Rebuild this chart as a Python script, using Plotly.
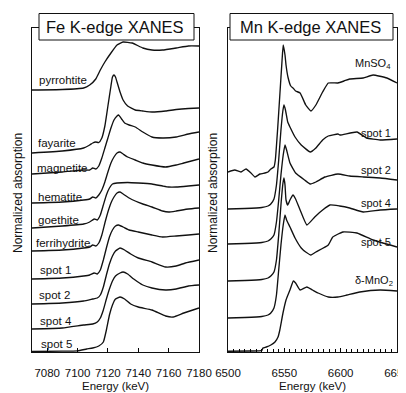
import plotly.graph_objects as go

# The page body adds an 8px margin, so the figure is drawn 8px smaller and all
# reference pixel positions are shifted by that offset.
W, H = 406, 393
OFF = 8
WF, HF = W - OFF, H - OFF
FONT = "Liberation Sans, Arial, sans-serif"
INK = "#111111"

# ---------------- Fe K-edge XANES (energy, stacked normalized absorption) ----------------
fe_names = ["pyrrohtite", "fayarite", "magnetite", "hematite", "goethite",
            "ferrihydrite", "spot 1", "spot 2", "spot 4", "spot 5"]

fe_pyrrohtite_e = [7070, 7090, 7104, 7108, 7112, 7115, 7118, 7122, 7126, 7130, 7136, 7143, 7149, 7156, 7165, 7173, 7180]
fe_pyrrohtite_y = [26.2, 26.25, 26.4, 26.7, 27.3, 28.2, 29.0, 29.9, 30.7, 31.0, 30.9, 30.4, 30.2, 30.2, 30.4, 30.6, 30.6]

fe_fayarite_e = [7070, 7090, 7104, 7108, 7110, 7112, 7114, 7116, 7118, 7120, 7122, 7123, 7124, 7125, 7126, 7128, 7130, 7133, 7138, 7143, 7149, 7158, 7165, 7173, 7180]
fe_fayarite_y = [19.9, 20.1, 20.4, 20.7, 20.9, 21.0, 20.95, 21.4, 22.6, 24.6, 26.6, 27.5, 27.7, 27.5, 27.0, 26.0, 25.2, 24.6, 24.2, 24.1, 24.0, 24.1, 24.25, 24.35, 24.4]

fe_magnetite_e = [7070, 7090, 7104, 7108, 7110, 7112, 7114, 7116, 7118, 7120, 7122, 7124, 7126, 7127, 7129, 7131, 7134, 7138, 7143, 7149, 7156, 7165, 7173, 7180]
fe_magnetite_y = [17.8, 18.0, 18.2, 18.2, 18.4, 18.3, 18.6, 19.4, 20.4, 21.4, 22.4, 23.2, 23.6, 23.7, 23.3, 22.9, 22.7, 22.5, 22.0, 21.5, 21.4, 21.5, 21.8, 22.0]

fe_hematite_e = [7070, 7090, 7104, 7108, 7110, 7112, 7114, 7116, 7118, 7120, 7122, 7124, 7126, 7128, 7130, 7133, 7138, 7143, 7149, 7158, 7165, 7170, 7180]
fe_hematite_y = [14.9, 15.0, 15.2, 15.3, 15.5, 15.4, 15.7, 16.2, 17.0, 18.0, 18.9, 19.5, 19.9, 20.0, 19.8, 19.5, 19.2, 18.9, 18.7, 18.5, 18.7, 18.9, 19.3]

fe_goethite_e = [7070, 7090, 7104, 7108, 7111, 7113, 7115, 7117, 7119, 7121, 7123, 7126, 7133, 7140, 7149, 7156, 7160, 7165, 7173, 7180]
fe_goethite_y = [12.4, 12.6, 12.8, 13.0, 13.3, 13.2, 13.7, 14.7, 15.7, 16.4, 16.8, 16.9, 16.95, 16.9, 16.8, 16.6, 16.5, 16.5, 16.6, 16.7]

fe_ferrihydrite_e = [7070, 7090, 7104, 7108, 7110, 7112, 7114, 7116, 7118, 7120, 7122, 7124, 7126, 7128, 7130, 7134, 7138, 7143, 7149, 7156, 7160, 7165, 7173, 7180]
fe_ferrihydrite_y = [10.1, 10.2, 10.4, 10.5, 10.7, 10.6, 10.9, 11.7, 12.9, 14.0, 14.9, 15.5, 15.9, 16.0, 15.8, 15.4, 15.1, 14.8, 14.5, 14.1, 14.0, 14.1, 14.3, 14.4]

fe_spot1_e = [7070, 7090, 7104, 7108, 7111, 7113, 7115, 7117, 7119, 7121, 7123, 7125, 7127, 7130, 7134, 7140, 7149, 7156, 7165, 7173, 7180]
fe_spot1_y = [7.3, 7.4, 7.6, 7.7, 7.9, 7.8, 8.2, 9.2, 10.4, 11.5, 12.2, 12.6, 12.7, 12.5, 12.2, 12.0, 11.7, 11.5, 11.6, 11.7, 11.8]

fe_spot2_e = [7070, 7090, 7104, 7110, 7113, 7115, 7117, 7119, 7121, 7123, 7125, 7128, 7131, 7135, 7140, 7149, 7158, 7165, 7171, 7180]
fe_spot2_y = [4.8, 4.9, 5.1, 5.3, 5.4, 5.7, 6.5, 7.7, 8.8, 9.6, 10.1, 10.4, 10.2, 9.8, 9.4, 9.0, 8.5, 8.6, 8.9, 9.2]

fe_spot4_e = [7070, 7090, 7104, 7110, 7113, 7115, 7117, 7119, 7121, 7123, 7125, 7128, 7130, 7133, 7137, 7143, 7149, 7158, 7165, 7173, 7180]
fe_spot4_y = [2.3, 2.4, 2.7, 2.8, 3.0, 3.4, 4.2, 5.3, 6.3, 7.1, 7.6, 7.9, 8.0, 7.8, 7.3, 6.7, 6.4, 6.2, 6.3, 6.6, 6.7]

fe_spot5_e = [7070, 7090, 7100, 7106, 7110, 7114, 7117, 7119, 7121, 7123, 7125, 7128, 7131, 7135, 7140, 7149, 7158, 7163, 7170, 7176, 7180]
fe_spot5_y = [0.05, 0.08, 0.12, 0.3, 0.4, 0.6, 1.0, 2.2, 3.7, 4.7, 5.3, 5.5, 5.3, 4.8, 4.5, 4.2, 3.6, 3.5, 3.9, 4.2, 4.4]

fe_series = [
    (fe_pyrrohtite_e, fe_pyrrohtite_y), (fe_fayarite_e, fe_fayarite_y),
    (fe_magnetite_e, fe_magnetite_y), (fe_hematite_e, fe_hematite_y),
    (fe_goethite_e, fe_goethite_y), (fe_ferrihydrite_e, fe_ferrihydrite_y),
    (fe_spot1_e, fe_spot1_y), (fe_spot2_e, fe_spot2_y),
    (fe_spot4_e, fe_spot4_y), (fe_spot5_e, fe_spot5_y),
]
fe_ticks = [7080, 7100, 7120, 7140, 7160, 7180]

# ---------------- Mn K-edge XANES ----------------
mn_names = ["MnSO<sub>4</sub>", "spot 1", "spot 2", "spot 4", "spot 5", "δ-MnO<sub>2</sub>"]

mn_mnso4_e = [6500, 6506, 6511.5, 6516, 6520.4, 6524, 6528.4, 6532.8, 6535.5, 6538, 6540.8, 6542, 6544, 6546, 6548, 6549,
              6550.6, 6551.5, 6553.2, 6555.7, 6557.7, 6560, 6564, 6569, 6573.6, 6578, 6584, 6589, 6597.6, 6603, 6608, 6620, 6628.7, 6641, 6650]
mn_mnso4_y = [18.0, 18.2, 18.0, 18.3, 17.9, 17.5, 17.8, 17.9, 18.0, 18.3, 18.5, 19.2, 22.2, 25.7, 29.2, 30.7,
              29.7, 28.7, 27.5, 26.6, 26.4, 26.1, 25.9, 24.7, 24.1, 24.7, 26.0, 26.9, 26.9, 27.1, 27.3, 27.4, 27.7, 27.4, 26.9]

mn_spot1_e = [6500, 6515, 6530, 6535.5, 6538, 6540.8, 6543, 6545, 6547, 6548.8, 6549.7, 6551, 6553, 6555, 6559.5, 6565,
              6573, 6578, 6584, 6589, 6597.6, 6599.4, 6614.5, 6623, 6635, 6650]
mn_spot1_y = [14.3, 14.35, 14.45, 14.6, 14.8, 15.3, 16.7, 19.2, 22.2, 24.2, 24.7, 24.2, 23.0, 22.5, 21.5, 20.7,
              20.0, 20.4, 21.2, 21.6, 21.8, 21.7, 22.0, 21.4, 21.2, 21.3]

mn_spot2_e = [6500, 6515, 6530, 6535.5, 6538, 6540.8, 6543, 6545, 6547, 6549, 6550.6, 6552, 6555, 6560, 6568, 6573,
              6578, 6586, 6597.6, 6608, 6620, 6635, 6650]
mn_spot2_y = [10.8, 10.85, 10.95, 11.1, 11.3, 11.7, 13.0, 15.2, 17.7, 19.7, 20.7, 20.2, 18.9, 17.9, 17.2, 16.8,
              17.0, 17.5, 17.8, 17.6, 17.5, 17.4, 17.2]

mn_spot4_e = [6500, 6515, 6530, 6535.5, 6538, 6540.8, 6543, 6545, 6547, 6548.8, 6549.7, 6550.6, 6551.5, 6553, 6555,
              6557.7, 6560, 6564, 6570, 6577, 6584, 6590.5, 6599, 6608, 6620, 6635, 6650]
mn_spot4_y = [7.1, 7.15, 7.25, 7.4, 7.6, 8.0, 9.2, 11.7, 14.7, 16.9, 17.4, 16.7, 15.2, 14.7, 15.2,
              15.7, 15.3, 14.2, 12.7, 13.5, 14.2, 14.7, 14.6, 14.4, 14.0, 14.2, 14.3]

mn_spot5_e = [6500, 6515, 6530, 6535.5, 6538, 6540.8, 6543, 6545, 6547, 6549, 6550.6, 6552, 6555, 6559.5, 6565,
              6569, 6573.6, 6578, 6589, 6593, 6602, 6614.5, 6628.7, 6650]
mn_spot5_y = [3.4, 3.45, 3.55, 3.7, 3.9, 4.4, 5.7, 8.2, 10.7, 12.7, 13.7, 13.2, 12.5, 11.4, 10.4,
              10.0, 9.7, 10.0, 10.7, 11.5, 12.0, 11.9, 11.2, 10.5]

mn_mno2_e = [6500, 6520, 6530, 6531, 6534, 6538, 6541.7, 6544.4, 6546, 6548.8, 6551.5, 6555, 6558, 6560, 6564,
             6570, 6575, 6580, 6589, 6597.6, 6605.6, 6617, 6635, 6650]
mn_mno2_y = [0.08, 0.1, 0.15, 0.4, 0.5, 0.7, 1.0, 1.5, 2.2, 3.9, 5.2, 6.2, 7.1, 6.9, 6.2,
             6.5, 6.2, 5.9, 5.5, 5.5, 5.7, 6.0, 6.2, 6.1]

mn_series = [
    (mn_mnso4_e, mn_mnso4_y), (mn_spot1_e, mn_spot1_y), (mn_spot2_e, mn_spot2_y),
    (mn_spot4_e, mn_spot4_y), (mn_spot5_e, mn_spot5_y), (mn_mno2_e, mn_mno2_y),
]
mn_ticks = [6500, 6550, 6600, 6650]
mn_minor_ticks = list(range(6505, 6650, 5))

# ---------------- label placement (reference pixels) ----------------
fe_label_x = [37, 36, 35, 36, 36, 34, 38, 37, 38, 39]
fe_label_y = [80, 143, 168, 197, 220, 243, 270, 295, 321, 344]
mn_label_x = [393, 393, 393, 393, 393, 395]
mn_label_y = [64, 133, 170, 203, 242, 281]


def px(x):
    return (x - OFF) / WF


def py(y):
    return 1 - (y - OFF) / HF


fig = go.Figure()
line_style = dict(color=INK, width=1.35, shape="spline", smoothing=0.4)
for e, a in fe_series:
    fig.add_trace(go.Scatter(x=e, y=a, mode="lines", line=line_style,
                             xaxis="x", yaxis="y", showlegend=False, hoverinfo="skip"))
for e, a in mn_series:
    fig.add_trace(go.Scatter(x=e, y=a, mode="lines", line=line_style,
                             xaxis="x2", yaxis="y2", showlegend=False, hoverinfo="skip"))

ydom = [py(352), py(28)]
common_x = dict(showline=True, mirror=True, linecolor=INK, linewidth=1, showgrid=False,
                zeroline=False, ticks="inside", ticklen=4, tickwidth=1.2, tickcolor="#000000", automargin=False,
                tickfont=dict(family=FONT, size=11.5, color=INK), ticklabelstandoff=10,
                ticklabeloverflow="allow", tickmode="array")
common_y = dict(showline=True, mirror=True, linecolor=INK, linewidth=1, showgrid=False, automargin=False,
                zeroline=False, showticklabels=False, ticks="", range=[0, 32.4], domain=ydom)

annotations = []
shapes = []
for name, lx, ly in zip(fe_names, fe_label_x, fe_label_y):
    annotations.append(dict(text=name, x=px(lx), y=py(ly), xref="paper", yref="paper",
                            xanchor="left", yanchor="middle", showarrow=False,
                            font=dict(family=FONT, size=11.5, color=INK)))
for name, lx, ly in zip(mn_names, mn_label_x, mn_label_y):
    annotations.append(dict(text=name, x=px(lx), y=py(ly), xref="paper", yref="paper",
                            xanchor="right", yanchor="middle", showarrow=False,
                            font=dict(family=FONT, size=11, color=INK)))

# panel titles in boxes
for (x0, x1, title) in [(39, 194, "Fe K-edge XANES"), (230, 393, "Mn K-edge XANES")]:
    shapes.append(dict(type="rect", xref="paper", yref="paper", x0=px(x0), x1=px(x1),
                       y0=py(40), y1=py(13.5), fillcolor="white", line=dict(color=INK, width=1),
                       layer="above"))
    annotations.append(dict(text=title, x=px((x0 + x1) / 2 - 1), y=py(27), xref="paper", yref="paper",
                            xanchor="center", yanchor="middle", showarrow=False,
                            font=dict(family=FONT, size=16.5, color=INK)))

# axis titles
for cx in [115.5, 312.5]:
    annotations.append(dict(text="Energy (keV)", x=px(cx), y=py(386), xref="paper", yref="paper",
                            xanchor="center", yanchor="middle", showarrow=False,
                            font=dict(family=FONT, size=11.5, color=INK)))
for cx in [18, 213]:
    annotations.append(dict(text="Normalized absorption", x=px(cx), y=py(193), xref="paper", yref="paper",
                            xanchor="center", yanchor="middle", showarrow=False, textangle=-90,
                            font=dict(family=FONT, size=12, color=INK)))

fig.update_layout(
    width=WF, height=HF, margin=dict(l=0, r=0, t=0, b=0, autoexpand=False),
    paper_bgcolor="white", plot_bgcolor="white",
    xaxis=dict(domain=[px(32), px(199)], range=[7070, 7180], tickvals=fe_ticks, anchor="y", **common_x),
    yaxis=dict(anchor="x", **common_y),
    xaxis2=dict(domain=[px(228), px(397)], range=[6500, 6650], tickvals=mn_ticks, anchor="y2",
                minor=dict(tickmode="array", tickvals=mn_minor_ticks, ticks="inside",
                           ticklen=3, tickwidth=1.1, tickcolor="#000000", showgrid=False), **common_x),
    yaxis2=dict(anchor="x2", **common_y),
    annotations=annotations, shapes=shapes,
)

fig.write_html("out.html")
